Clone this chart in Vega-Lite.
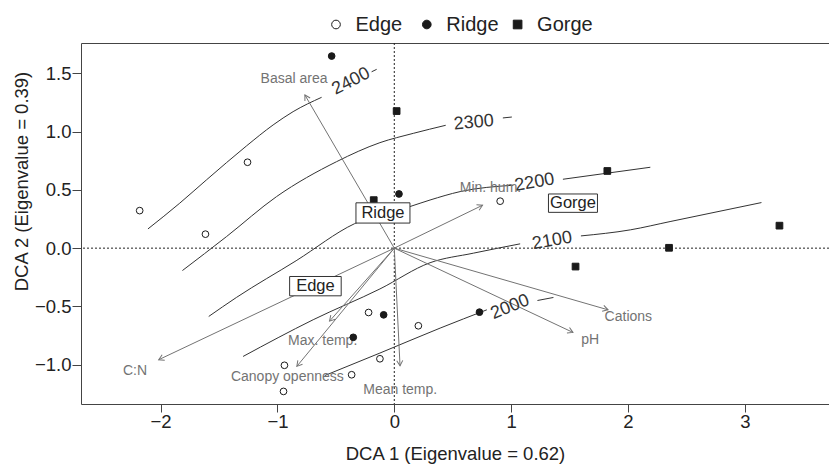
{
  "$schema": "https://vega.github.io/schema/vega-lite/v6.json",
  "width": 748,
  "height": 361,
  "autosize": "none",
  "padding": {"left": 81, "top": 43, "right": 0, "bottom": 67},
  "background": "white",
  "config": {
    "view": {"stroke": null},
    "font": "Liberation Sans",
    "axis": {
      "grid": false,
      "domainColor": "#444444",
      "tickColor": "#444444",
      "labelColor": "#222222",
      "titleColor": "#222222",
      "labelFont": "Liberation Sans",
      "titleFont": "Liberation Sans",
      "labelFontSize": 18.5,
      "titleFontSize": 18.5,
      "titleFontWeight": "normal",
      "tickSize": 8
    },
    "legend": {
      "title": null, "orient": "none", "legendX": 245, "legendY": -28.5, "direction": "horizontal", "columns": 3,
      "gridAlign": "all", "columnPadding": 4.8, "labelOffset": 9.5, "labelFontSize": 20, "labelColor": "#222222",
      "labelFont": "Liberation Sans", "symbolSize": 75, "symbolStrokeWidth": 1, "padding": 0
    }
  },
  "datasets": {
    "zeros": [{"v": 0}],
    "sites": [
      {"group": "Edge", "x": -2.179, "y": 0.322},
      {"group": "Edge", "x": -1.616, "y": 0.12},
      {"group": "Edge", "x": -1.256, "y": 0.737},
      {"group": "Edge", "x": 0.906, "y": 0.403},
      {"group": "Edge", "x": -0.22, "y": -0.552},
      {"group": "Edge", "x": 0.206, "y": -0.666},
      {"group": "Edge", "x": -0.123, "y": -0.949},
      {"group": "Edge", "x": -0.94, "y": -1.005},
      {"group": "Edge", "x": -0.365, "y": -1.086},
      {"group": "Edge", "x": -0.948, "y": -1.229},
      {"group": "Ridge", "x": -0.536, "y": 1.648},
      {"group": "Ridge", "x": 0.04, "y": 0.465},
      {"group": "Ridge", "x": -0.091, "y": -0.572},
      {"group": "Ridge", "x": -0.351, "y": -0.765},
      {"group": "Ridge", "x": 0.729, "y": -0.549},
      {"group": "Gorge", "x": 0.02, "y": 1.176},
      {"group": "Gorge", "x": -0.176, "y": 0.412},
      {"group": "Gorge", "x": 1.823, "y": 0.662},
      {"group": "Gorge", "x": 3.296, "y": 0.193},
      {"group": "Gorge", "x": 2.351, "y": 0.003},
      {"group": "Gorge", "x": 1.551, "y": -0.158}
    ],
    "arrows": [
      {"var": "Basal area", "x": -0.765, "y": 1.314, "lx": -0.858, "ly": 1.448},
      {"var": "Min. hum.", "x": 0.755, "y": 0.368, "lx": 0.823, "ly": 0.514},
      {"var": "Cations", "x": 1.829, "y": -0.529, "lx": 2.003, "ly": -0.591},
      {"var": "pH", "x": 1.529, "y": -0.723, "lx": 1.677, "ly": -0.786},
      {"var": "Mean temp.", "x": 0.049, "y": -1.009, "lx": 0.051, "ly": -1.22},
      {"var": "Canopy openness", "x": -0.834, "y": -1.014, "lx": -0.915, "ly": -1.105},
      {"var": "Max. temp.", "x": -0.554, "y": -0.626, "lx": -0.613, "ly": -0.794},
      {"var": "C:N", "x": -2.016, "y": -0.957, "lx": -2.219, "ly": -1.057}
    ],
    "contours": [
      {"seg": "2400a", "i": 1, "x": -2.108, "y": 0.165},
      {"seg": "2400a", "i": 2, "x": -1.836, "y": 0.386},
      {"seg": "2400a", "i": 3, "x": -1.608, "y": 0.585},
      {"seg": "2400a", "i": 4, "x": -1.265, "y": 0.877},
      {"seg": "2400a", "i": 5, "x": -1.037, "y": 1.057},
      {"seg": "2400a", "i": 6, "x": -0.866, "y": 1.171},
      {"seg": "2400a", "i": 7, "x": -0.622, "y": 1.294},
      {"seg": "2400b", "i": 1, "x": -0.194, "y": 1.513},
      {"seg": "2400b", "i": 2, "x": -0.151, "y": 1.534},
      {"seg": "2300a", "i": 1, "x": -1.813, "y": -0.192},
      {"seg": "2300a", "i": 2, "x": -1.436, "y": 0.099},
      {"seg": "2300a", "i": 3, "x": -1.008, "y": 0.442},
      {"seg": "2300a", "i": 4, "x": -0.494, "y": 0.742},
      {"seg": "2300a", "i": 5, "x": -0.123, "y": 0.905},
      {"seg": "2300a", "i": 6, "x": 0.163, "y": 0.985},
      {"seg": "2300a", "i": 7, "x": 0.44, "y": 1.054},
      {"seg": "2300b", "i": 1, "x": 0.929, "y": 1.117},
      {"seg": "2300b", "i": 2, "x": 1.006, "y": 1.125},
      {"seg": "2200a", "i": 1, "x": -1.588, "y": -0.586},
      {"seg": "2200a", "i": 2, "x": -1.351, "y": -0.423},
      {"seg": "2200a", "i": 3, "x": -0.84, "y": -0.108},
      {"seg": "2200a", "i": 4, "x": -0.34, "y": 0.21},
      {"seg": "2200a", "i": 5, "x": 0.135, "y": 0.357},
      {"seg": "2200a", "i": 6, "x": 0.306, "y": 0.413},
      {"seg": "2200a", "i": 7, "x": 0.563, "y": 0.485},
      {"seg": "2200a", "i": 8, "x": 1.02, "y": 0.54},
      {"seg": "2200b", "i": 1, "x": 1.443, "y": 0.591},
      {"seg": "2200b", "i": 2, "x": 1.82, "y": 0.643},
      {"seg": "2200b", "i": 3, "x": 2.191, "y": 0.694},
      {"seg": "2100a", "i": 1, "x": -1.294, "y": -0.929},
      {"seg": "2100a", "i": 2, "x": -0.694, "y": -0.614},
      {"seg": "2100a", "i": 3, "x": -0.123, "y": -0.35},
      {"seg": "2100a", "i": 4, "x": 0.306, "y": -0.125},
      {"seg": "2100a", "i": 5, "x": 0.677, "y": -0.043},
      {"seg": "2100a", "i": 6, "x": 1.077, "y": 0.037},
      {"seg": "2100b", "i": 1, "x": 1.597, "y": 0.105},
      {"seg": "2100b", "i": 2, "x": 2.02, "y": 0.157},
      {"seg": "2100b", "i": 3, "x": 2.36, "y": 0.228},
      {"seg": "2100b", "i": 4, "x": 3.142, "y": 0.391},
      {"seg": "2000a", "i": 1, "x": -0.595, "y": -1.093},
      {"seg": "2000a", "i": 2, "x": -0.123, "y": -0.9},
      {"seg": "2000a", "i": 3, "x": 0.392, "y": -0.686},
      {"seg": "2000a", "i": 4, "x": 0.792, "y": -0.529},
      {"seg": "2000b", "i": 1, "x": 1.225, "y": -0.449},
      {"seg": "2000b", "i": 2, "x": 1.362, "y": -0.423}
    ],
    "contourLabels": [
      {"level": "2400", "x": -0.37, "y": 1.43},
      {"level": "2300", "x": 0.68, "y": 1.076},
      {"level": "2200", "x": 1.2, "y": 0.562},
      {"level": "2100", "x": 1.351, "y": 0.063},
      {"level": "2000", "x": 0.991, "y": -0.506}
    ],
    "boxes": [
      {"label": "Ridge", "x": -0.097, "y": 0.302},
      {"label": "Edge", "x": -0.675, "y": -0.326},
      {"label": "Gorge", "x": 1.529, "y": 0.386}
    ]
  },
  "resolve": {"axis": {"x": "independent", "y": "independent"}},
  "layer": [
    {
      "data": {"name": "zeros"},
      "mark": {"type": "rule", "color": "#222222", "strokeWidth": 1, "strokeDash": [2, 2]},
      "encoding": {
        "x": {"field": "v", "type": "quantitative", "scale": {"domain": [-2.681, 3.72], "nice": false, "zero": false},
              "axis": {"orient": "top", "labels": false, "ticks": false, "title": null}}
      }
    },
    {
      "data": {"name": "zeros"},
      "mark": {"type": "rule", "color": "#222222", "strokeWidth": 1, "strokeDash": [2, 2]},
      "encoding": {
        "y": {"field": "v", "type": "quantitative", "scale": {"domain": [-1.337, 1.76], "nice": false, "zero": false}, "axis": null}
      }
    },
    {
      "data": {"name": "contours"},
      "mark": {"type": "line", "color": "#333333", "strokeWidth": 1, "interpolate": "monotone"},
      "encoding": {
        "x": {"field": "x", "type": "quantitative", "scale": {"domain": [-2.681, 3.72], "nice": false, "zero": false}, "axis": null},
        "y": {"field": "y", "type": "quantitative", "scale": {"domain": [-1.337, 1.76], "nice": false, "zero": false}, "axis": null},
        "detail": {"field": "seg", "type": "nominal"},
        "order": {"field": "i", "type": "quantitative"}
      }
    },
    {
      "data": {"name": "arrows"},
      "mark": {"type": "rule", "color": "#737373", "strokeWidth": 1},
      "encoding": {
        "x": {"field": "x", "type": "quantitative", "scale": {"domain": [-2.681, 3.72], "nice": false, "zero": false}, "axis": null},
        "y": {"field": "y", "type": "quantitative", "scale": {"domain": [-1.337, 1.76], "nice": false, "zero": false}, "axis": null},
        "x2": {"datum": 0},
        "y2": {"datum": 0}
      }
    },
    {
      "data": {"name": "arrows"},
      "transform": [{"calculate": "atan2(-datum.y, datum.x) * 180 / PI", "as": "ang"}],
      "mark": {"type": "point", "shape": "M-1,-0.577L0,0L-1,0.577", "size": 110, "filled": false, "stroke": "#737373", "strokeWidth": 1, "opacity": 1},
      "encoding": {
        "x": {"field": "x", "type": "quantitative", "scale": {"domain": [-2.681, 3.72], "nice": false, "zero": false}, "axis": null},
        "y": {"field": "y", "type": "quantitative", "scale": {"domain": [-1.337, 1.76], "nice": false, "zero": false}, "axis": null},
        "angle": {"field": "ang", "type": "quantitative", "scale": null}
      }
    },
    {
      "data": {"name": "arrows"},
      "mark": {"type": "text", "fontSize": 14, "color": "#737373", "align": "center", "baseline": "middle"},
      "encoding": {
        "x": {"field": "lx", "type": "quantitative", "scale": {"domain": [-2.681, 3.72], "nice": false, "zero": false}, "axis": null},
        "y": {"field": "ly", "type": "quantitative", "scale": {"domain": [-1.337, 1.76], "nice": false, "zero": false}, "axis": null},
        "text": {"field": "var", "type": "nominal"}
      }
    },
    {
      "data": {"name": "contourLabels"},
      "transform": [{"filter": "datum.level == '2400'"}],
      "mark": {"type": "text", "fontSize": 18, "color": "#333333", "align": "center", "baseline": "middle", "angle": 333},
      "encoding": {
        "x": {"field": "x", "type": "quantitative", "scale": {"domain": [-2.681, 3.72], "nice": false, "zero": false}, "axis": null},
        "y": {"field": "y", "type": "quantitative", "scale": {"domain": [-1.337, 1.76], "nice": false, "zero": false}, "axis": null},
        "text": {"field": "level", "type": "nominal"}
      }
    },
    {
      "data": {"name": "contourLabels"},
      "transform": [{"filter": "datum.level == '2300'"}],
      "mark": {"type": "text", "fontSize": 18, "color": "#333333", "align": "center", "baseline": "middle", "angle": 355},
      "encoding": {
        "x": {"field": "x", "type": "quantitative", "scale": {"domain": [-2.681, 3.72], "nice": false, "zero": false}, "axis": null},
        "y": {"field": "y", "type": "quantitative", "scale": {"domain": [-1.337, 1.76], "nice": false, "zero": false}, "axis": null},
        "text": {"field": "level", "type": "nominal"}
      }
    },
    {
      "data": {"name": "contourLabels"},
      "transform": [{"filter": "datum.level == '2200' || datum.level == '2100'"}],
      "mark": {"type": "text", "fontSize": 18, "color": "#333333", "align": "center", "baseline": "middle", "angle": 350},
      "encoding": {
        "x": {"field": "x", "type": "quantitative", "scale": {"domain": [-2.681, 3.72], "nice": false, "zero": false}, "axis": null},
        "y": {"field": "y", "type": "quantitative", "scale": {"domain": [-1.337, 1.76], "nice": false, "zero": false}, "axis": null},
        "text": {"field": "level", "type": "nominal"}
      }
    },
    {
      "data": {"name": "contourLabels"},
      "transform": [{"filter": "datum.level == '2000'"}],
      "mark": {"type": "text", "fontSize": 18, "color": "#333333", "align": "center", "baseline": "middle", "angle": 338},
      "encoding": {
        "x": {"field": "x", "type": "quantitative", "scale": {"domain": [-2.681, 3.72], "nice": false, "zero": false}, "axis": null},
        "y": {"field": "y", "type": "quantitative", "scale": {"domain": [-1.337, 1.76], "nice": false, "zero": false}, "axis": null},
        "text": {"field": "level", "type": "nominal"}
      }
    },
    {
      "data": {"name": "sites"},
      "mark": {"type": "point", "filled": true, "size": 45, "strokeWidth": 1, "opacity": 1},
      "encoding": {
        "x": {"field": "x", "type": "quantitative", "scale": {"domain": [-2.681, 3.72], "nice": false, "zero": false},
              "axis": {"orient": "bottom", "values": [-2, -1, 0, 1, 2, 3], "format": "d", "labelPadding": 0, "title": "DCA 1 (Eigenvalue = 0.62)", "titleY": 55, "titleBaseline": "alphabetic"}},
        "y": {"field": "y", "type": "quantitative", "scale": {"domain": [-1.337, 1.76], "nice": false, "zero": false},
              "axis": {"orient": "left", "values": [-1, -0.5, 0, 0.5, 1, 1.5], "format": ".1f", "labelPadding": 1, "tickSize": 9, "title": "DCA 2 (Eigenvalue = 0.39)", "titleX": -54, "titleY": 138, "titleAngle": 270, "titleBaseline": "alphabetic", "titleAlign": "center"}},
        "shape": {"field": "group", "type": "nominal", "scale": {"domain": ["Edge", "Ridge", "Gorge"], "range": ["circle", "circle", "square"]}},
        "fill": {"field": "group", "type": "nominal", "scale": {"domain": ["Edge", "Ridge", "Gorge"], "range": ["#ffffff", "#1a1a1a", "#1a1a1a"]}},
        "stroke": {"field": "group", "type": "nominal", "scale": {"domain": ["Edge", "Ridge", "Gorge"], "range": ["#1a1a1a", "#1a1a1a", "#1a1a1a"]}}
      }
    },
    {
      "data": {"name": "boxes"},
      "mark": {"type": "point", "shape": "M-1,-0.375L1,-0.375L1,0.375L-1,0.375Z", "filled": true, "fill": "#ffffff", "stroke": "#333333", "strokeWidth": 1, "opacity": 1},
      "encoding": {
        "x": {"field": "x", "type": "quantitative", "scale": {"domain": [-2.681, 3.72], "nice": false, "zero": false}, "axis": null},
        "y": {"field": "y", "type": "quantitative", "scale": {"domain": [-1.337, 1.76], "nice": false, "zero": false}, "axis": null},
        "size": {"field": "label", "type": "ordinal", "scale": {"domain": ["Ridge", "Edge", "Gorge"], "range": [2916, 2401, 3215]}, "legend": null}
      }
    },
    {
      "data": {"name": "boxes"},
      "mark": {"type": "text", "fontSize": 16.5, "color": "#222222", "align": "center", "baseline": "middle"},
      "encoding": {
        "x": {"field": "x", "type": "quantitative", "scale": {"domain": [-2.681, 3.72], "nice": false, "zero": false}, "axis": null},
        "y": {"field": "y", "type": "quantitative", "scale": {"domain": [-1.337, 1.76], "nice": false, "zero": false}, "axis": null},
        "text": {"field": "label", "type": "nominal"}
      }
    }
  ]
}
